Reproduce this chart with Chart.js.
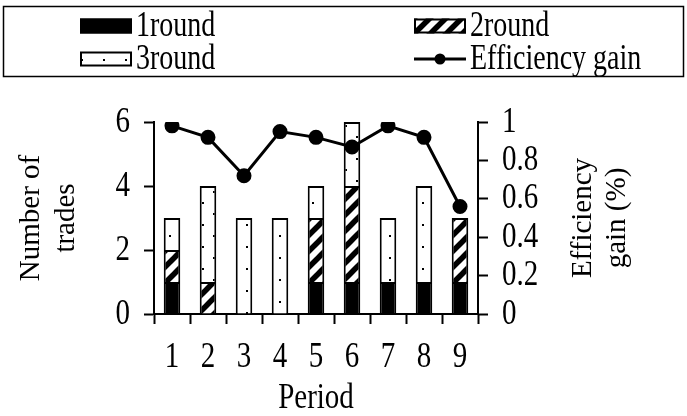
<!DOCTYPE html>
<html>
<head>
<meta charset="utf-8">
<script src="https://cdn.jsdelivr.net/npm/chart.js@4"></script>
<style>
  html, body { margin: 0; padding: 0; background: #fff; }
  #wrap { width: 687px; height: 416px; }
</style>
</head>
<body>
<div id="wrap"><canvas id="c" width="687" height="416"></canvas></div>
<script>
const periods = ['1', '2', '3', '4', '5', '6', '7', '8', '9'];
const round1 = [1, 0, 0, 0, 1, 1, 1, 1, 1];
const round2 = [1, 1, 0, 0, 2, 3, 0, 0, 2];
const round3 = [1, 3, 3, 3, 1, 2, 2, 3, 0];
const efficiency = [0.98, 0.92, 0.72, 0.95, 0.92, 0.87, 0.98, 0.92, 0.56];
const leftTicks = ['0', '2', '4', '6'];
const rightTicks = ['0', '0.2', '0.4', '0.6', '0.8', '1'];
const seriesNames = ['1round', '2round', '3round', 'Efficiency gain'];
const leftTitle = ['Number of', 'trades'];
const rightTitle = ['Efficiency', 'gain (%)'];
const xTitle = 'Period';

const FONT = "'Liberation Serif', 'Times New Roman', serif";
const SY = 1.25; // vertical stretch of horizontal text, as in the reference
const canvas = document.getElementById('c');
const mainCtx = canvas.getContext('2d');

function makeHatch() {
  const c = document.createElement('canvas');
  c.width = 16; c.height = 16;
  const x = c.getContext('2d');
  x.fillStyle = '#fff'; x.fillRect(0, 0, 16, 16);
  x.strokeStyle = '#000'; x.lineWidth = 5.5;
  for (const k of [-16, 0, 16]) {
    x.beginPath(); x.moveTo(k - 2, 18); x.lineTo(k + 18, -2); x.stroke();
  }
  return mainCtx.createPattern(c, 'repeat');
}
function makeDots() {
  const c = document.createElement('canvas');
  c.width = 22; c.height = 22;
  const x = c.getContext('2d');
  x.fillStyle = '#fff'; x.fillRect(0, 0, 22, 22);
  x.fillStyle = '#000';
  x.fillRect(4, 4, 2, 2);
  x.fillRect(15, 15, 2, 2);
  return mainCtx.createPattern(c, 'repeat');
}
const hatch = makeHatch();
const dots = makeDots();

const barBorder = { top: 2, left: 2, right: 2, bottom: 0 };

function sText(ctx, text, x, y, align, size) {
  ctx.save();
  ctx.translate(x, y);
  ctx.scale(1, SY);
  ctx.font = size + 'px ' + FONT;
  ctx.fillStyle = '#000';
  ctx.textAlign = align;
  ctx.textBaseline = 'middle';
  ctx.fillText(text, 0, 0);
  ctx.restore();
}

const textPlugin = {
  id: 'customText',
  afterDraw(chart) {
    const ctx = chart.ctx;
    const ca = chart.chartArea;
    ctx.save();
    // legend box
    ctx.strokeStyle = '#000';
    ctx.lineWidth = 1.5;
    ctx.strokeRect(3.5, 6.5, 680, 70);
    const ds = chart.data.datasets;
    const items = [
      { i: 0, x: 80, y: 26 },
      { i: 1, x: 414, y: 26 },
      { i: 2, x: 80, y: 59 },
      { i: 3, x: 414, y: 59 }
    ];
    for (const it of items) {
      const d = ds[it.i];
      if (d.type === 'line') {
        ctx.strokeStyle = '#000';
        ctx.lineWidth = 3;
        ctx.beginPath(); ctx.moveTo(it.x, it.y); ctx.lineTo(it.x + 52, it.y); ctx.stroke();
        ctx.fillStyle = '#000';
        ctx.beginPath(); ctx.arc(it.x + 26, it.y, 5.5, 0, Math.PI * 2); ctx.fill();
      } else {
        ctx.fillStyle = d.backgroundColor;
        ctx.fillRect(it.x, it.y - 7.5, 52, 15);
        ctx.strokeStyle = '#000';
        ctx.lineWidth = 2;
        ctx.strokeRect(it.x + 1, it.y - 6.5, 50, 13);
      }
      sText(ctx, d.label, it.x + 56, it.y + 1, 'left', 28);
    }
    // tick labels
    const sy = chart.scales.y, sy1 = chart.scales.y1, sx = chart.scales.x;
    sy.ticks.forEach((t, i) => {
      const lbl = t.label != null ? t.label : leftTicks[i];
      sText(ctx, lbl, sy.right - 24, sy.getPixelForValue(t.value), 'right', 29);
    });
    sy1.ticks.forEach((t, i) => {
      const lbl = t.label != null ? t.label : rightTicks[i];
      sText(ctx, lbl, sy1.left + 24, sy1.getPixelForValue(t.value), 'left', 29);
    });
    sx.ticks.forEach((t, i) => {
      const lbl = t.label != null ? t.label : periods[i];
      sText(ctx, lbl, sx.getPixelForTick(i), 357, 'center', 29);
    });
    // x title
    sText(ctx, xTitle, (ca.left + ca.right) / 2, 398, 'center', 29);
    // right axis title, reading bottom to top
    ctx.font = '29px ' + FONT;
    ctx.fillStyle = '#000';
    ctx.textAlign = 'center';
    ctx.textBaseline = 'middle';
    ctx.translate(583, (ca.top + ca.bottom) / 2);
    ctx.rotate(-Math.PI / 2);
    rightTitle.forEach((t, k) => ctx.fillText(t, 0, k * 34));
    ctx.restore();
  }
};

const axisColor = '#000';

new Chart(canvas, {
  type: 'bar',
  data: {
    labels: periods,
    datasets: [
      { label: seriesNames[0], data: round1, backgroundColor: '#000', borderColor: '#000',
        borderWidth: barBorder, borderSkipped: false, yAxisID: 'y', order: 1 },
      { label: seriesNames[1], data: round2, backgroundColor: hatch, borderColor: '#000',
        borderWidth: barBorder, borderSkipped: false, yAxisID: 'y', order: 1 },
      { label: seriesNames[2], data: round3, backgroundColor: dots, borderColor: '#000',
        borderWidth: barBorder, borderSkipped: false, yAxisID: 'y', order: 1 },
      { label: seriesNames[3], type: 'line', data: efficiency, yAxisID: 'y1', order: 0,
        borderColor: '#000', borderWidth: 3, backgroundColor: '#000',
        pointRadius: 6, pointBackgroundColor: '#000', pointBorderColor: '#000',
        tension: 0, fill: false }
    ]
  },
  options: {
    responsive: false,
    animation: false,
    events: [],
    devicePixelRatio: 1,
    layout: { padding: { top: 122, left: 0, right: 0, bottom: 0 } },
    datasets: { bar: { barPercentage: 0.46, categoryPercentage: 1 } },
    plugins: { legend: { display: false }, tooltip: { enabled: false } },
    scales: {
      x: {
        stacked: true,
        grid: { display: true, drawOnChartArea: false, offset: true, tickLength: 10, tickColor: axisColor, tickWidth: 2 },
        border: { display: true, color: axisColor, width: 2 },
        ticks: { display: false },
        afterFit(s) { s.height = 102; }
      },
      y: {
        stacked: true,
        position: 'left',
        min: 0, max: 6,
        grid: { display: true, drawOnChartArea: false, tickLength: 10, tickColor: axisColor, tickWidth: 2 },
        border: { display: true, color: axisColor, width: 2 },
        ticks: { display: false, stepSize: 2,
          callback: (v) => leftTicks[Math.round(v / 2)] },
        title: { display: true, text: leftTitle, color: '#000', font: { family: FONT, size: 29, lineHeight: 1.2 }, padding: { top: 14, bottom: 0 } },
        afterFit(s) { s.width = 154; }
      },
      y1: {
        position: 'right',
        min: 0, max: 1,
        grid: { display: true, drawOnChartArea: false, tickLength: 10, tickColor: axisColor, tickWidth: 2 },
        border: { display: true, color: axisColor, width: 2 },
        ticks: { display: false, stepSize: 0.2,
          callback: (v) => rightTicks[Math.round(v * 5)] },
        afterFit(s) { s.width = 209; }
      }
    }
  },
  plugins: [textPlugin]
});
</script>
</body>
</html>
